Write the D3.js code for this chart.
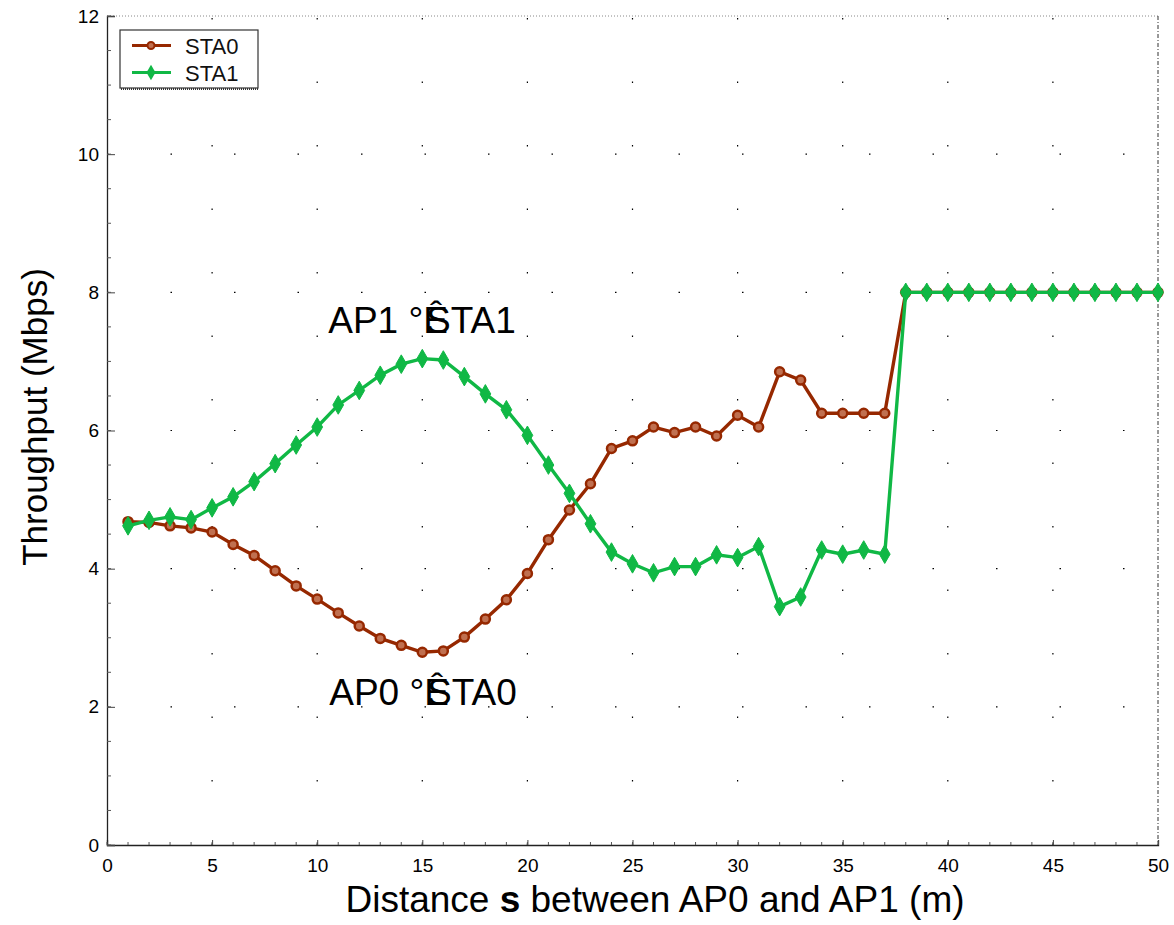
<!DOCTYPE html>
<html><head><meta charset="utf-8">
<script src="https://cdn.jsdelivr.net/npm/d3@7"></script>
<style>body{margin:0;background:#fff}</style>
</head><body>
<svg id="c" width="1174" height="925"></svg>
<script>
const distance = d3.range(1, 51);
const sta0 = [4.68,4.67,4.62,4.59,4.53,4.35,4.19,3.97,3.75,3.56,3.36,3.17,2.99,2.89,2.79,2.81,3.01,3.27,3.55,3.93,4.42,4.85,5.23,5.74,5.85,6.05,5.97,6.05,5.92,6.22,6.05,6.85,6.73,6.25,6.25,6.25,6.25,8,8,8,8,8,8,8,8,8,8,8,8,8];
const sta1 = [4.62,4.70,4.75,4.71,4.88,5.04,5.26,5.52,5.79,6.05,6.37,6.58,6.80,6.96,7.04,7.02,6.78,6.53,6.30,5.93,5.50,5.09,4.65,4.24,4.07,3.94,4.03,4.03,4.20,4.16,4.32,3.45,3.59,4.27,4.21,4.27,4.21,8,8,8,8,8,8,8,8,8,8,8,8,8];
const xTicks = [0,5,10,15,20,25,30,35,40,45,50];
const yTicks = [0,2,4,6,8,10,12];
const seriesNames = ["STA0","STA1"];

const svg = d3.select("#c");
const x = d3.scaleLinear().domain([0,50]).range([107,1158]);
const y = d3.scaleLinear().domain([0,12]).range([845,16]);
const brown = "#962800", green = "#10B845";
const FONT = "Liberation Sans, Arial, sans-serif";

// grid (sparse dots)
const g = svg.append("g");
g.selectAll(".gx").data(xTicks.slice(1,-1)).join("line")
  .attr("x1",d=>x(d)).attr("x2",d=>x(d)).attr("y1",y(0)).attr("y2",y(12))
  .attr("stroke","#000").attr("stroke-width",1.2).attr("stroke-dasharray","1.5,62");
g.selectAll(".gy").data(yTicks.slice(1,-1)).join("line")
  .attr("x1",x(0)).attr("x2",x(50)).attr("y1",d=>y(d)).attr("y2",d=>y(d))
  .attr("stroke","#000").attr("stroke-width",1.2).attr("stroke-dasharray","1.5,62");

// frame
svg.append("line").attr("x1",x(0)).attr("x2",x(50)).attr("y1",y(12)).attr("y2",y(12))
  .attr("stroke","#888").attr("stroke-dasharray","1,2");
svg.append("line").attr("x1",x(50)).attr("x2",x(50)).attr("y1",y(12)).attr("y2",y(0))
  .attr("stroke","#333").attr("stroke-dasharray","4,2,1,2");

// axes
const xAxis = d3.axisBottom(x).tickValues(xTicks).tickSize(-5).tickPadding(14);
const yAxis = d3.axisLeft(y).tickValues(yTicks).tickSize(-8).tickPadding(8);
const ax = svg.append("g").attr("transform",`translate(0,${y(0)})`).call(xAxis);
const ay = svg.append("g").attr("transform",`translate(${x(0)},0)`).call(yAxis);
[ax,ay].forEach(a=>{
  a.select(".domain").attr("stroke","#222").attr("stroke-width",1.3);
  a.selectAll(".tick line").attr("stroke","#444");
  a.selectAll("text").attr("font-family",FONT).attr("font-size",19).attr("fill","#000");
});
// minor ticks
svg.append("g").selectAll("line").data(d3.range(0,50.01,1)).join("line")
  .attr("x1",d=>x(d)).attr("x2",d=>x(d)).attr("y1",y(0)).attr("y2",y(0)-3).attr("stroke","#555");
svg.append("g").selectAll("line").data(d3.range(0,12.01,0.5)).join("line")
  .attr("x1",x(0)).attr("x2",x(0)+4).attr("y1",d=>y(d)).attr("y2",d=>y(d)).attr("stroke","#555");

// lines
const line = d3.line().x((d,i)=>x(distance[i])).y(d=>y(d));
svg.append("path").datum(sta0).attr("d",line).attr("fill","none").attr("stroke",brown).attr("stroke-width",3.4);
svg.append("g").selectAll("circle").data(sta0).join("circle")
  .attr("cx",(d,i)=>x(distance[i])).attr("cy",d=>y(d)).attr("r",4.5)
  .attr("fill","#c07050").attr("stroke",brown).attr("stroke-width",2.5);
svg.append("path").datum(sta1).attr("d",line).attr("fill","none").attr("stroke",green).attr("stroke-width",3.4);
const star = d3.symbol().type(d3.symbolDiamond).size(100);
svg.append("g").selectAll("path").data(sta1).join("path")
  .attr("transform",(d,i)=>`translate(${x(distance[i])},${y(d)})`)
  .attr("d",star).attr("fill",green).attr("stroke",green).attr("stroke-width",1);

// annotations
function ann(label, cx, by){
  const t = svg.append("text").attr("x",cx).attr("y",by).attr("text-anchor","middle")
    .attr("font-family",FONT).attr("font-size",37).attr("fill","#000");
  t.append("tspan").text(label[0]);
  t.append("tspan").attr("dx",-22).text(label[1]);
}
ann(["AP1 °Ê","STA1"], 422, 333);
ann(["AP0 °Ê","STA0"], 423, 705);

// axis titles
svg.append("text").attr("transform","translate(47,417) rotate(-90)").attr("text-anchor","middle")
  .attr("font-family",FONT).attr("font-size",35).text("Throughput (Mbps)");
const xt = svg.append("text").attr("x",655).attr("y",912).attr("text-anchor","middle")
  .attr("font-family",FONT).attr("font-size",37);
xt.append("tspan").text("Distance ");
xt.append("tspan").attr("font-weight","bold").text("s");
xt.append("tspan").text(" between AP0 and AP1 (m)");

// legend
const lg = svg.append("g");
lg.append("rect").attr("x",120).attr("y",30).attr("width",138).attr("height",58)
  .attr("fill","#fff").attr("stroke","#333").attr("stroke-width",1.2);
lg.append("line").attr("x1",121).attr("x2",259).attr("y1",89).attr("y2",89).attr("stroke","#333").attr("stroke-dasharray","1,1").attr("stroke-width",2);
seriesNames.forEach((n,i)=>{
  const yy = 45.5 + i*27, col = i===0?brown:green;
  lg.append("line").attr("x1",132).attr("x2",171).attr("y1",yy).attr("y2",yy).attr("stroke",col).attr("stroke-width",3);
  if(i===0) lg.append("circle").attr("cx",151).attr("cy",yy).attr("r",3.5).attr("fill","#c07050").attr("stroke",brown).attr("stroke-width",2);
  else lg.append("path").attr("transform",`translate(151,${yy})`).attr("d",d3.symbol().type(d3.symbolDiamond).size(70)).attr("fill",col);
  lg.append("text").attr("x",185).attr("y",yy+8).attr("font-family",FONT).attr("font-size",22).attr("fill","#111").text(n);
});
</script>
</body></html>
